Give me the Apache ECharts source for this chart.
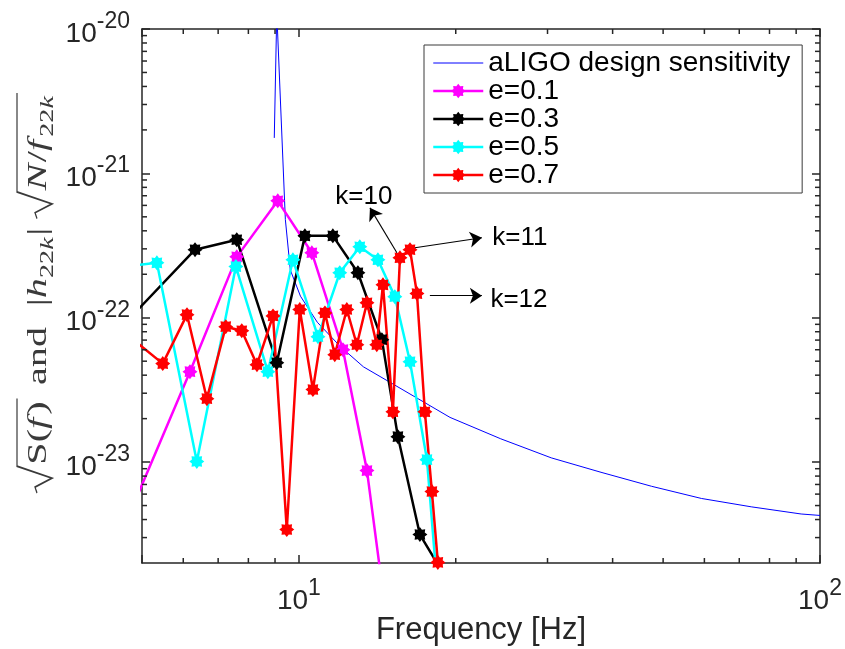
<!DOCTYPE html>
<html>
<head>
<meta charset="utf-8">
<script src="https://cdn.jsdelivr.net/npm/echarts@6/dist/echarts.min.js"></script>
<style>
  html, body { margin: 0; padding: 0; background: #fff; }
  #chart { width: 845px; height: 649px; }
</style>
</head>
<body>
<div id="chart"></div>
<script>
// ---- data (frequency in Hz, amplitude in 1/sqrt(Hz)) ----
const aligoF = [8.97, 9.07, 9.42, 9.63, 10.07, 10.85, 12.02, 13.3, 15.0, 19.5, 24.4, 30.5, 38.0, 47.5, 59.2, 73.8, 92, 100];
const aligoS = [1.76e-21, 1.3e-20, 4.79e-22, 2.14e-22, 1.41e-22, 9.3e-23, 6.3e-23, 4.57e-23, 3.55e-23, 2.04e-23, 1.45e-23, 1.07e-23, 8.5e-24, 6.8e-24, 5.6e-24, 4.9e-24, 4.37e-24, 4.27e-24];

const e01F = [4.53, 6.18, 7.60, 9.11, 10.59, 12.15, 13.51, 14.56];
const e01H = [3.0e-24, 4.23e-23, 2.64e-22, 6.45e-22, 2.82e-22, 6.01e-23, 8.73e-24, 1.12e-24];

const e03F = [4.63, 6.32, 7.60, 9.07, 10.27, 11.62, 12.98, 14.43, 15.49, 17.07, 19.75];
const e03H = [9.1e-23, 2.96e-22, 3.47e-22, 4.88e-23, 3.69e-22, 3.69e-22, 2.05e-22, 7.05e-23, 1.50e-23, 3.15e-24, 1.31e-24];

const e05F = [4.74, 5.34, 6.37, 7.57, 8.72, 9.74, 10.88, 11.98, 13.09, 14.18, 15.28, 16.34, 17.61, 18.65];
const e05H = [2.29e-22, 2.40e-22, 1.01e-23, 2.26e-22, 4.23e-23, 2.52e-22, 7.39e-23, 2.05e-22, 3.10e-22, 2.52e-22, 1.40e-22, 4.96e-23, 1.04e-23, 8.1e-25];

const e07F = [4.63, 5.48, 6.10, 6.66, 7.24, 7.77, 8.31, 8.92, 9.48, 10.04, 10.64, 11.22, 11.72, 12.36, 12.92, 13.51, 14.11, 14.50, 15.15, 15.63, 16.34, 16.85, 17.45, 18.00, 18.48];
const e07H = [7.87e-23, 4.81e-23, 1.05e-22, 2.75e-23, 8.67e-23, 8.13e-23, 4.73e-23, 1.03e-22, 3.41e-24, 1.14e-22, 3.18e-23, 1.08e-22, 5.55e-23, 1.14e-22, 6.50e-23, 1.27e-22, 6.50e-23, 1.69e-22, 2.23e-23, 2.60e-22, 2.96e-22, 1.47e-22, 2.23e-23, 6.25e-24, 2.02e-24];

const seriesNames = ['aLIGO design sensitivity', 'e=0.1', 'e=0.3', 'e=0.5', 'e=0.7'];

// harmonic annotations on the e=0.7 curve
const kLabels = ['k=10', 'k=11', 'k=12'];
const arrowFrom = [[15.42, 2.82e-22], [16.70, 3.05e-22], [17.84, 1.42e-22]];
const arrowTo = [[13.69, 5.77e-22], [22.45, 3.58e-22], [22.45, 1.42e-22]];
const labelAt = [[13.33, 6.87e-22], [23.46, 3.55e-22], [23.26, 1.33e-22]];

// axis ranges and tick labels (powers of ten)
const xRange = [5, 100];
const yRange = [2e-24, 1e-20];
const xTickExps = [1, 2];
const yTickExps = [-23, -22, -21, -20];
const minorMantissas = [2, 3, 4, 5, 6, 7, 8, 9];
const xDecades = [1, 10];
const yDecades = [1e-24, 1e-23, 1e-22, 1e-21];

// ---- helpers ----
const AX = '#262626';
const TITLE = '#3a3a3a';
const SANS = '"Liberation Sans", Arial, Helvetica, sans-serif';
const SERIF = '"Liberation Serif", "Times New Roman", serif';
const zip = (a, b) => a.map((v, i) => [v, b[i]]);

function minorTicks(decades, range) {
  const out = [];
  decades.forEach(d => minorMantissas.forEach(m => {
    const v = m * d;
    if (v > range[0] * 1.0001 && v < range[1] * 0.9999) out.push(v);
  }));
  return out;
}

function starSymbol(points, inner) {
  let d = '';
  for (let i = 0; i < 2 * points; i++) {
    const a = Math.PI * i / points - Math.PI / 2;
    const r = i % 2 ? inner : 1;
    d += (i ? 'L' : 'M') + (r * Math.cos(a)).toFixed(3) + ' ' + (r * Math.sin(a)).toFixed(3);
  }
  return 'path://' + d + 'Z';
}
const STAR = starSymbol(8, 0.7);

const powFormatter = exps => v => {
  const lg = Math.log10(v);
  const e = Math.round(lg);
  return (Math.abs(lg - e) < 1e-6 && exps.indexOf(e) >= 0) ? '{b|10}{s|' + e + '}' : '';
};
const powRich = {
  b: { fontSize: 28, lineHeight: 38, verticalAlign: 'bottom', fontFamily: SANS, color: AX },
  s: { fontSize: 23, lineHeight: 23, verticalAlign: 'top', fontFamily: SANS, color: AX }
};

// y-axis title: sqrt(S(f)) and |h_22k| sqrt(N/f_22k), typeset from pieces
function buildYTitle() {
  const ctx = document.createElement('canvas').getContext('2d');
  const BIG = 27, SUB = 19, HOOK = 19, BAR = -31;
  const kids = [];
  let x = 0;
  const put = (t, size, italic, drop) => {
    ctx.font = (italic ? 'italic ' : 'normal ') + 'normal ' + size + 'px ' + SERIF;
    const w = ctx.measureText(t).width;
    kids.push({
      type: 'text', x: x, y: (drop || 0) - 0.32 * size, silent: true,
      style: {
        text: t, fontSize: size, fontFamily: SERIF,
        fontStyle: italic ? 'italic' : 'normal', fontWeight: 'normal',
        fill: TITLE, align: 'left', verticalAlign: 'middle'
      }
    });
    x += w;
  };
  const radical = (x0, x1) => kids.push({
    type: 'polyline', silent: true,
    shape: { points: [[x0, -11], [x0 + 4, -13], [x0 + 10, 4], [x0 + HOOK - 1, BAR], [x1, BAR]] },
    style: { stroke: TITLE, lineWidth: 1.2, fill: null }
  });
  const r1 = x; x += HOOK;
  put('S', BIG, false); put('(', BIG, false); put('f', BIG, true); x += 2; put(')', BIG, false); x += 2;
  radical(r1, x);
  x += 9; put('and', BIG, false); x += 14;
  put('|', BIG, false); put('h', BIG, true); put('22', SUB, false, 6); put('k', SUB, true, 6); x += 1; put('|', BIG, false); x += 6;
  const r2 = x; x += HOOK;
  put('N', BIG, true); x += 1; put('/', BIG, false); put('f', BIG, true); x += 2; put('22', SUB, false, 6); put('k', SUB, true, 6); x += 2;
  radical(r2, x);
  return { kids: kids, len: x };
}

const yTitle = buildYTitle();
const titleSpan = 400, titleCenterY = 293, titleBaseX = 48;
const titleScale = titleSpan / yTitle.len;

function lineSeries(name, f, h, color, width, withSymbol) {
  return {
    name: name, type: 'line', data: zip(f, h),
    symbol: withSymbol ? STAR : 'none', symbolSize: 15, showAllSymbol: true,
    lineStyle: { color: color, width: width },
    itemStyle: { color: color },
    clip: true, animation: false, silent: true,
    emphasis: { disabled: true }
  };
}

const majorAxisCommon = {
  type: 'log', logBase: 10,
  axisLine: { show: true, onZero: false, lineStyle: { color: AX, width: 1.5 } },
  axisTick: { show: true, inside: true, length: 8, lineStyle: { color: AX, width: 1.5 } },
  splitLine: { show: false },
  minorTick: { show: false }
};

const xMinor = minorTicks(xDecades, xRange);
const yMinor = minorTicks(yDecades, yRange);

const red = lineSeries('e=0.7', e07F, e07H, '#ff0000', 2.5, true);
red.markLine = {
  silent: true, animation: false,
  symbol: ['none', 'arrow'], symbolSize: 12,
  lineStyle: { color: '#000', width: 1.1, type: 'solid' },
  label: { show: false },
  emphasis: { disabled: true },
  data: kLabels.map((t, i) => [{ coord: arrowFrom[i] }, { coord: arrowTo[i] }])
};
red.markPoint = {
  silent: true, animation: false,
  symbol: 'circle', symbolSize: 1,
  itemStyle: { color: 'rgba(0,0,0,0)' },
  label: { show: true, color: '#000', fontSize: 26, fontFamily: SANS },
  data: kLabels.map((t, i) => ({
    coord: labelAt[i], value: t,
    label: { formatter: t, position: i === 0 ? 'inside' : 'right', distance: 0 }
  }))
};

const legendItems = seriesNames.map((n, i) => i === 0
  ? { name: n, itemStyle: { opacity: 0 }, lineStyle: { width: 1 } }
  : { name: n, lineStyle: { width: 2.5 } });

const option = {
  animation: false,
  backgroundColor: '#fff',
  grid: { left: 142, right: 25, top: 29, bottom: 86, containLabel: false, outerBoundsMode: 'none' },
  legend: {
    data: legendItems,
    orient: 'vertical', left: 424, top: 45,
    padding: [4, 12, 4, 8],
    itemGap: 0, itemWidth: 50, itemHeight: 18,
    backgroundColor: '#fff', borderColor: '#3a3a3a', borderWidth: 1,
    selectedMode: false,
    textStyle: { fontSize: 28, lineHeight: 27.5, color: '#000', fontFamily: SANS }
  },
  xAxis: [
    Object.assign({}, majorAxisCommon, {
      min: xRange[0], max: xRange[1], position: 'bottom',
      axisLabel: { formatter: powFormatter(xTickExps), rich: powRich, margin: 14 },
      name: 'Frequency [Hz]', nameLocation: 'middle', nameGap: 52, nameMoveOverlap: false,
      nameTextStyle: { fontSize: 31, color: AX, fontFamily: SANS }
    }),
    Object.assign({}, majorAxisCommon, {
      min: xRange[0], max: xRange[1], position: 'top', axisLabel: { show: false }
    })
  ],
  yAxis: [
    Object.assign({}, majorAxisCommon, {
      min: yRange[0], max: yRange[1], position: 'left',
      axisLabel: { formatter: powFormatter(yTickExps), rich: powRich, margin: 12 }
    }),
    Object.assign({}, majorAxisCommon, {
      min: yRange[0], max: yRange[1], position: 'right', axisLabel: { show: false }
    })
  ],
  graphic: [{
    type: 'group', silent: true,
    x: titleBaseX, y: titleCenterY + titleSpan / 2,
    rotation: Math.PI / 2, scaleX: titleScale, scaleY: 1,
    children: yTitle.kids
  }],
  series: [
    lineSeries(seriesNames[0], aligoF, aligoS, '#0000ff', 1, false),
    lineSeries(seriesNames[1], e01F, e01H, '#ff00ff', 2.5, true),
    lineSeries(seriesNames[2], e03F, e03H, '#000000', 2.5, true),
    lineSeries(seriesNames[3], e05F, e05H, '#00ffff', 2.5, true),
    red,
    {
      // minor ticks along the bottom and top edges
      type: 'custom', silent: true, animation: false, clip: false, z: 5,
      data: xMinor.map(v => [v, 1e-22]),
      renderItem: (params, api) => {
        const cs = params.coordSys;
        const px = api.coord([api.value(0), 1e-22])[0];
        const yb = cs.y + cs.height, yt = cs.y;
        return { type: 'group', children: [
          { type: 'line', shape: { x1: px, y1: yb, x2: px, y2: yb - 5 }, style: { stroke: AX, lineWidth: 1.5 } },
          { type: 'line', shape: { x1: px, y1: yt, x2: px, y2: yt + 5 }, style: { stroke: AX, lineWidth: 1.5 } }
        ] };
      }
    },
    {
      // minor ticks along the left and right edges
      type: 'custom', silent: true, animation: false, clip: false, z: 5,
      data: yMinor.map(v => [10, v]),
      renderItem: (params, api) => {
        const cs = params.coordSys;
        const py = api.coord([10, api.value(1)])[1];
        const xl = cs.x, xr = cs.x + cs.width;
        return { type: 'group', children: [
          { type: 'line', shape: { x1: xl, y1: py, x2: xl + 5, y2: py }, style: { stroke: AX, lineWidth: 1.5 } },
          { type: 'line', shape: { x1: xr, y1: py, x2: xr - 5, y2: py }, style: { stroke: AX, lineWidth: 1.5 } }
        ] };
      }
    }
  ]
};

const chart = echarts.init(document.getElementById('chart'), null, { renderer: 'canvas' });
chart.setOption(option);
</script>
</body>
</html>
